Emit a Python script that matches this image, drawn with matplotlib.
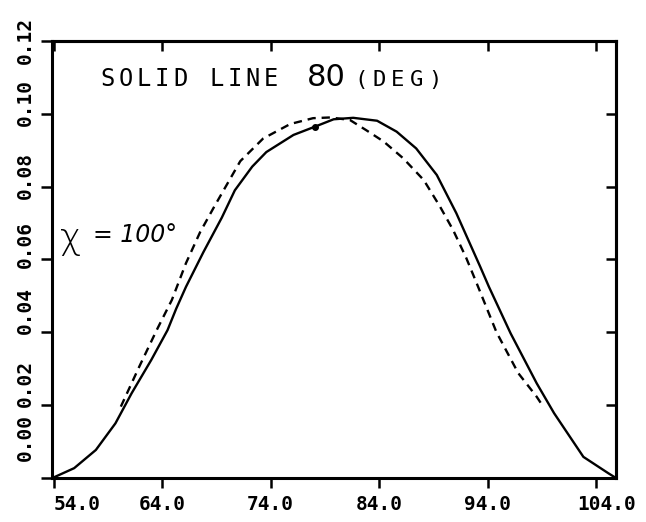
import matplotlib
matplotlib.use("Agg")
import matplotlib.pyplot as plt
import matplotlib.transforms as mtransforms

# solid line (80 deg)
solid_x = [53.9, 55.9, 57.9, 59.7, 61.2, 63.0, 64.5, 65.3, 66.2, 67.8, 69.5, 70.7,
           72.3, 73.6, 76.1, 78.1, 79.8, 81.6, 83.8, 85.6, 87.4, 89.3, 91.1, 93.3, 94.1,
           96.1, 98.5, 100.1, 102.8, 105.1, 105.8]
solid_y = [0.0, 0.0027, 0.0077, 0.0150, 0.0233, 0.0324, 0.0406, 0.0465, 0.0525, 0.0620,
           0.0715, 0.0790, 0.0855, 0.0895, 0.0942, 0.0965, 0.0985, 0.0989, 0.0981, 0.0951,
           0.0905, 0.0832, 0.0727, 0.0580, 0.0525, 0.0397, 0.0260, 0.0178, 0.0058, 0.0013,
           0.0]

# dashed line (chi = 100 deg)
dash_x = [60.2, 61.9, 63.5, 64.9, 66.2, 67.5, 68.8, 71.2, 73.3, 75.8, 77.9, 79.5,
          81.3, 82.8, 84.4, 86.2, 88.1, 89.6, 90.8, 92.0, 92.9, 94.8, 96.8, 98.5, 99.1]
dash_y = [0.0196, 0.0306, 0.0406, 0.0489, 0.0590, 0.0675, 0.0745, 0.0870, 0.0932, 0.0972,
          0.0988, 0.0990, 0.0983, 0.0955, 0.0924, 0.0878, 0.0818, 0.0745, 0.0681, 0.0605,
          0.0540, 0.0400, 0.0288, 0.0223, 0.0196]

# single dot sitting on the solid curve
dot_x = [78.1]
dot_y = [0.0965]

xticks = [54, 64, 74, 84, 94, 104]
xtick_labels = ["54.0", "64.0", "74.0", "84.0", "94.0", "104.0"]
yticks = [0.0, 0.02, 0.04, 0.06, 0.08, 0.10, 0.12]
ytick_labels = ["0.00", "0.02", "0.04", "0.06", "0.08", "0.10", "0.12"]
# where the (drifting) rotated y labels sit on the scan
ylabel_pos = [0.011, 0.026, 0.046, 0.064, 0.083, 0.103, 0.120]

mono = "DejaVu Sans Mono"

fig = plt.figure(figsize=(6.46, 5.22), dpi=100)
ax = fig.add_axes([0.0805, 0.0843, 0.873, 0.8372])

ax.plot(solid_x, solid_y, color="black", lw=1.7, solid_joinstyle="round")
ax.plot(dash_x, dash_y, color="black", lw=1.7, ls=(0, (3.5, 2.5)))
ax.plot(dot_x, dot_y, "o", color="black", ms=4)

ax.set_xlim(53.86, 105.8)
ax.set_ylim(0.0, 0.12)

for s in ax.spines.values():
    s.set_linewidth(2.2)

ax.set_xticks(xticks)
ax.set_xticklabels(xtick_labels, fontfamily=mono, fontsize=14, fontweight="bold")
ax.set_yticks(yticks)
ax.set_yticklabels([])
ax.tick_params(axis="x", direction="out", length=7, width=1.8, pad=5)
ax.tick_params(axis="y", direction="out", length=8, width=1.8)

# first label starts at its tick, last is nudged right like on the scan
lbls = ax.get_xticklabels()
lbls[0].set_horizontalalignment("left")
lbls[-1].set_transform(lbls[-1].get_transform() +
                       mtransforms.ScaledTranslation(10 / 100, 0, fig.dpi_scale_trans))

# inward ticks on top and right
top = ax.secondary_xaxis("top")
top.set_xticks(xticks)
top.set_xticklabels([])
top.tick_params(direction="in", length=7, width=1.8)
top.spines["top"].set_linewidth(2.2)
right = ax.secondary_yaxis("right")
right.set_yticks(yticks)
right.set_yticklabels([])
right.tick_params(direction="in", length=7, width=1.8)
right.spines["right"].set_linewidth(2.2)

trans = mtransforms.blended_transform_factory(ax.transAxes, ax.transData)
for lab, pos in zip(ytick_labels, ylabel_pos):
    ax.text(-0.048, pos, lab, transform=trans, rotation=90, ha="center", va="center",
            fontfamily=mono, fontsize=14, fontweight="bold", clip_on=False)


def spaced(x, y, s, adv_px, **kw):
    # plotter lettering is wider spaced than the font, so set char by char
    for i, ch in enumerate(s):
        off = mtransforms.ScaledTranslation(i * adv_px / 100, 0, fig.dpi_scale_trans)
        ax.text(x, y, ch, transform=ax.transData + off, va="baseline", **kw)


spaced(58.3, 0.1076, "SOLID LINE", 18.2, fontfamily=mono, fontsize=17)
ax.text(77.3, 0.1076, "80", fontfamily="DejaVu Sans", fontsize=22, va="baseline")
spaced(81.7, 0.1076, "(DEG)", 18.5, fontfamily=mono, fontsize=16)

ax.text(54.6, 0.0655, "\u03c7", fontfamily="DejaVu Sans", fontsize=26, va="center",
        fontweight="light")
ax.text(57.6, 0.0668, "= 100\u00b0", fontfamily="DejaVu Sans", fontsize=17,
        fontstyle="italic", va="center")

fig.savefig("out.png", dpi=100)
